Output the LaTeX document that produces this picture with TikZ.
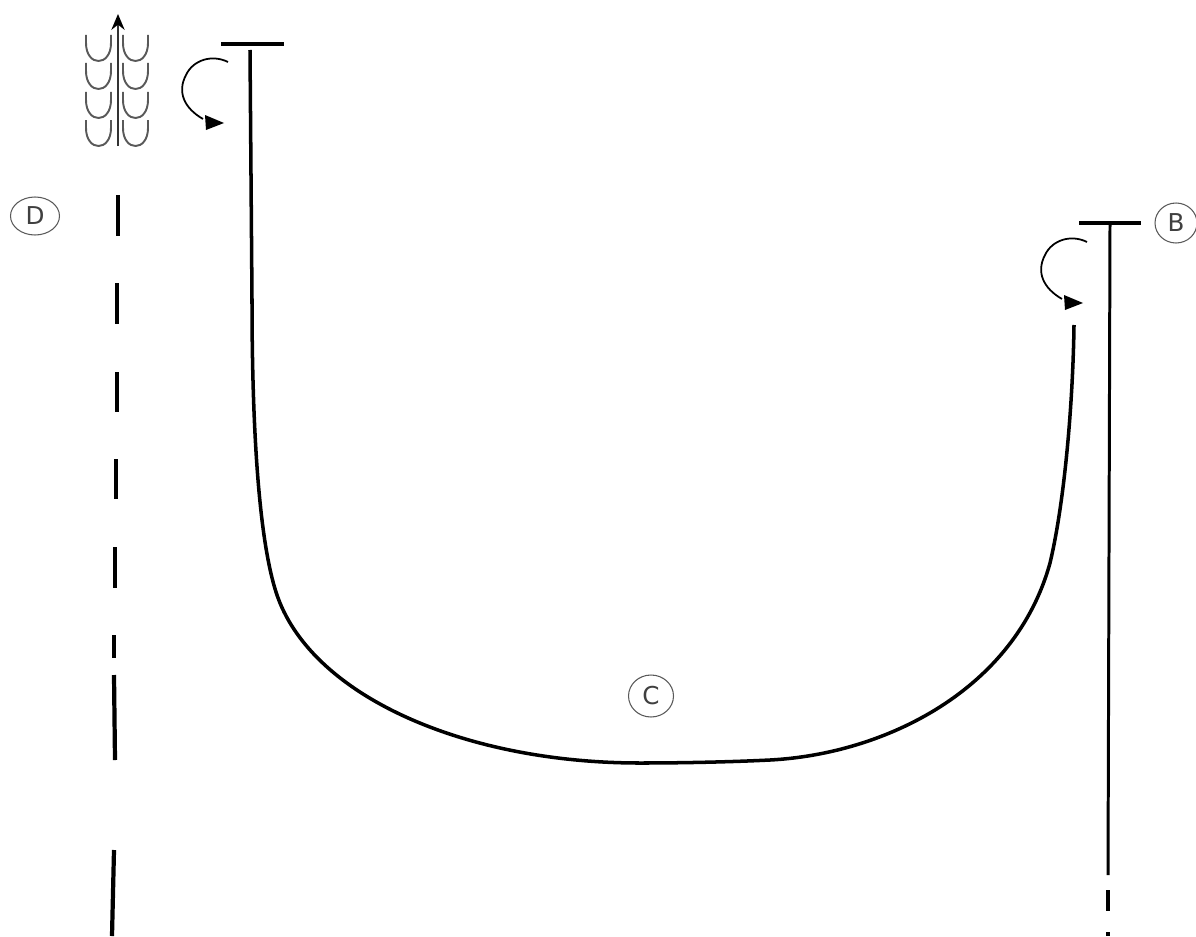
\documentclass[tikz,border=0pt]{standalone}
\usepackage{fontspec}
\setmainfont{DejaVu Sans}
\usetikzlibrary{arrows.meta, positioning, shapes.geometric}
\tikzset{
	thinline/.style={line width=1.1pt, black!65},
	heavyline/.style={line width=2pt, black},
	barline/.style={line width=2.6pt, black},
	mark label/.style={draw=black!65, line width=0.6pt, ellipse, inner sep=0pt, text=black!75, font=\fontsize{14}{16}\selectfont}
}
\begin{document}
\begin{tikzpicture}[x=0.02cm, y=-0.02cm, >=Stealth]
	\useasboundingbox (0,0) rectangle (1196,936);
	
	% Cups on the shaft
	\foreach \ytop in {35,63,92,120}{
		\foreach \xleft in {86,123}{
			\draw[thinline] (\xleft,\ytop) -- ++(0,8) .. controls +(0,24) and +(0,24) .. ++(25,0) -- ++(0,-8);
		}
	}
	
	% Shaft with arrow
	\draw[thinline, black!80, line width=1.3pt, -{Stealth[length=9pt,width=7.5pt,black]}] (118,146) -- (118,14);
	
	% Left roller and right roller
	\draw[barline] (221,44) -- (284,44);
	\draw[barline] (1079,223) -- (1141,223);
	\draw[line width=1.7pt] (1110,223) -- (1108,875);
	
	% Rotation arrows
	\foreach \ox/\oy in {0/0,859/180}{
		\begin{scope}[shift={(\ox,\oy)}]
			\draw[line width=1pt] (228,62) .. controls (212,54) and (193,60) .. (186,75) .. controls (177,92) and (184,108) .. (203,119);
			\fill (205,115) -- (224,123) -- (206,130) -- cycle;
		\end{scope}
	}
	
	% Belt
	\draw[heavyline] (250,50) -- (252,300) .. controls (252,420) and (258,550) .. (280,603)
		.. controls (320,700) and (470,763) .. (640,763)
		.. controls (680,763) and (730,762) .. (770,760)
		.. controls (885,754) and (1015,690) .. (1050,563)
		.. controls (1065,500) and (1073,400) .. (1074,325);
	
	% Left dashes
	\foreach \xa/\ya/\xb/\yb in {118/195/118/236, 117/283/117/324, 117/372/117/412, 116/459/116/499, 115/547/115/588, 114/635/114/658, 114/675/115/760, 114/850/112/936}{
		\draw[heavyline, line width=2.4pt] (\xa,\ya) -- (\xb,\yb);
	}
	
	% Right dashes
	\draw[heavyline, line width=2.2pt] (1108,890) -- (1108,911);
	\draw[heavyline, line width=2.2pt] (1108,932) -- (1108,936);
	
	% Labels
	\node[mark label, minimum width=0.98cm, minimum height=0.76cm] (labelD) at (35,216) {D};
	\node[mark label, minimum width=0.84cm, minimum height=0.8cm] (labelB) at (1176,223) {B};
	\node[mark label, minimum width=0.9cm, minimum height=0.84cm] (labelC) at (651,696) {C};
\end{tikzpicture}
\end{document}
